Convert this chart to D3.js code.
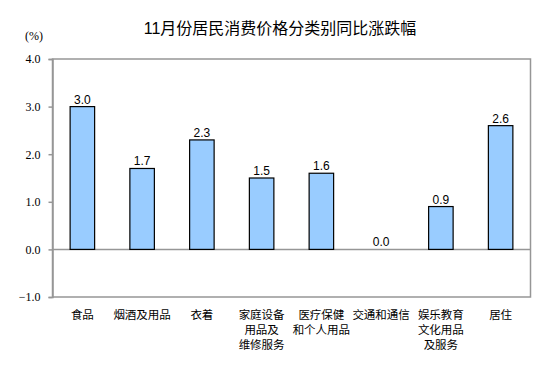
<!DOCTYPE html>
<head>
  <meta charset="utf-8">
  <script src="https://d3js.org/d3.v7.min.js"></script>
  <style>
    body { margin:0; background:#fff; }
    text { fill:#000; }
  </style>
</head>
<body>
<script>

// data
var categories = ['食品', '烟酒及用品', '衣着', '家庭设备|用品及|维修服务', '医疗保健|和个人用品', '交通和通信', '娱乐教育|文化用品|及服务', '居住'];
var values = [3.0, 1.7, 2.3, 1.5, 1.6, 0.0, 0.9, 2.6];
var yTicks = [-1.0, 0.0, 1.0, 2.0, 3.0, 4.0];

var width = 554, height = 376;
var plot = { left: 52.5, right: 530.5, top: 59, bottom: 297 };

var svg = d3.select('body').append('svg')
    .attr('width', width)
    .attr('height', height);

var x = d3.scaleBand()
    .domain(categories)
    .range([plot.left, plot.right])
    .paddingInner(0.59)
    .paddingOuter(0.295);

var y = d3.scaleLinear()
    .domain([-1, 4])
    .range([plot.bottom, plot.top]);

// title
svg.append('text')
    .attr('x', 280)
    .attr('y', 34)
    .attr('text-anchor', 'middle')
    .style('font-family', 'Liberation Sans, Noto Sans CJK SC, sans-serif')
    .style('font-size', '16px')
    .text('11月份居民消费价格分类别同比涨跌幅');

svg.append('text')
    .attr('x', 25)
    .attr('y', 40)
    .style('font-family', 'Liberation Serif, serif')
    .style('font-size', '12px')
    .text('(%)');

// plot frame
svg.append('rect')
    .attr('x', plot.left)
    .attr('y', plot.top)
    .attr('width', plot.right - plot.left)
    .attr('height', plot.bottom - plot.top)
    .attr('fill', 'none')
    .attr('stroke', '#969696')
    .attr('stroke-width', 1.5);

// y axis
var yAxis = d3.axisLeft(y)
    .tickValues(yTicks)
    .tickSize(4)
    .tickFormat(d3.format('.1f'));

var ya = svg.append('g')
    .attr('transform', 'translate(' + plot.left + ',0)')
    .call(yAxis);
ya.select('.domain').attr('stroke', '#969696').attr('stroke-width', 1.5);
ya.selectAll('.tick line').attr('stroke', '#969696').attr('stroke-width', 1.5);
ya.selectAll('.tick text')
    .attr('x', -12)
    .style('font-family', 'Liberation Serif, serif')
    .style('font-size', '12px')
    .attr('fill', '#000');

// zero line
svg.append('line')
    .attr('x1', plot.left).attr('x2', plot.right)
    .attr('y1', y(0)).attr('y2', y(0))
    .attr('stroke', '#969696')
    .attr('stroke-width', 1.5);

// bars
svg.selectAll('rect.bar')
    .data(values)
    .enter().append('rect')
    .attr('class', 'bar')
    .attr('x', function(d, i) { return x(categories[i]); })
    .attr('y', function(d) { return y(Math.max(d, 0)); })
    .attr('width', x.bandwidth())
    .attr('height', function(d) { return Math.abs(y(d) - y(0)); })
    .attr('fill', '#99CCFF')
    .attr('stroke', '#000')
    .attr('stroke-width', 1.2);

// value labels
svg.selectAll('text.val')
    .data(values)
    .enter().append('text')
    .attr('class', 'val')
    .attr('x', function(d, i) { return x(categories[i]) + x.bandwidth() / 2; })
    .attr('y', function(d) { return y(d) - 3; })
    .attr('text-anchor', 'middle')
    .style('font-family', 'Liberation Sans, Arial, sans-serif')
    .style('font-size', '12px')
    .text(function(d) { return d3.format('.1f')(d); });

// category labels, one text per line
categories.forEach(function(c) {
  var cx = x(c) + x.bandwidth() / 2;
  c.split('|').forEach(function(line, j) {
    svg.append('text')
      .attr('class', 'cat')
      .attr('x', cx)
      .attr('y', 318.5 + j * 15)
      .attr('text-anchor', 'middle')
      .style('font-family', 'Noto Sans CJK SC, sans-serif')
      .style('font-size', '11.5px')
      .text(line);
  });
});

</script>
</body>
